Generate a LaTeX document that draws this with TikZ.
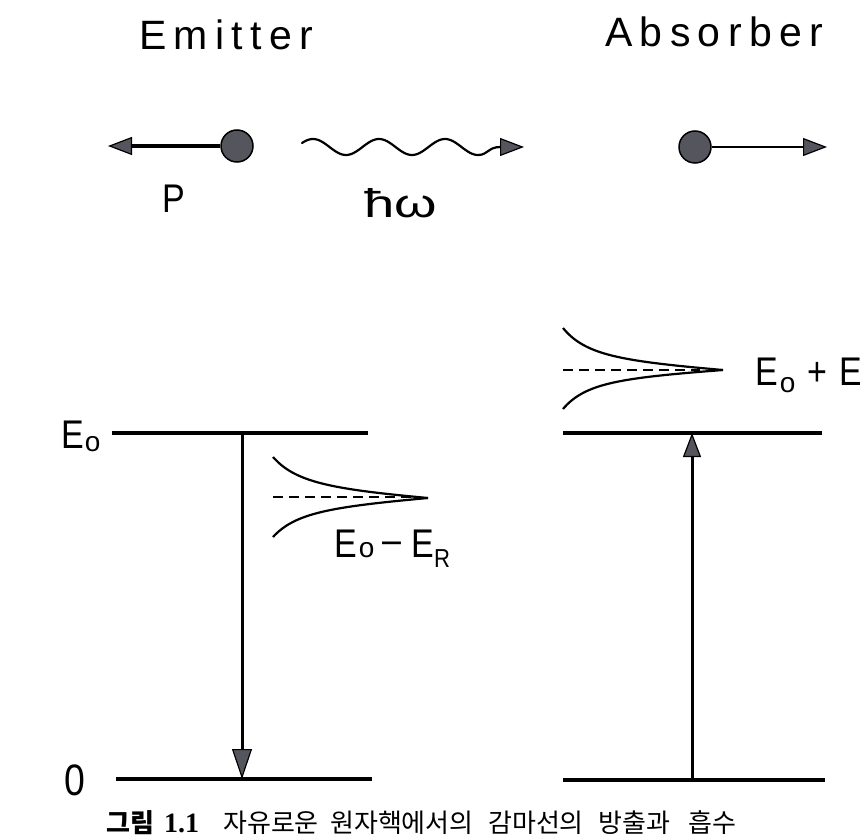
\documentclass[tikz,border=0pt]{standalone}
\usepackage{fontspec}
\usepackage{graphicx}
\setmainfont{Liberation Sans}[FakeStretch=0.85]
\newfontfamily\plainsans{Liberation Sans}
\newfontfamily\titlefont{Liberation Sans}[LetterSpace=18]
\newfontfamily\cjk{Noto Sans CJK KR}
\newfontfamily\serifnum{Liberation Serif}
\usetikzlibrary{arrows.meta}
\definecolor{ballgray}{HTML}{55555E}
\newcommand\lowsub[2][3pt]{\raisebox{-#1}{\plainsans\fontsize{28}{28}\selectfont #2}}
\begin{document}
\begin{tikzpicture}[x=1pt,y=-1pt,
  lab/.style={font=\fontsize{40}{40}\selectfont, inner sep=0pt, anchor=base west},
  ttl/.style={font=\titlefont\fontsize{41}{41}\selectfont, inner sep=0pt, anchor=base west},
  captxt/.style={font=\cjk\fontsize{26}{26}\selectfont, inner sep=0pt, anchor=base west},
  ball/.style={circle, fill=ballgray, draw=black, line width=1.5pt, minimum size=32pt, inner sep=0pt},
  lvl/.style={line width=3.5pt},
  curve/.style={line width=2.2pt},
  dline/.style={line width=2pt, dash pattern=on 10pt off 6pt},
  tipsmall/.style={-{Triangle[length=24pt,width=18pt,fill=ballgray,line width=1.2pt]}},
  tipbig/.style={-{Triangle[length=30pt,width=20pt,fill=ballgray,line width=1.2pt]}}
]
\useasboundingbox (0,0) rectangle (860,837);
\fill[white] (0,0) rectangle (860,837);

% titles
\node[ttl] (emit) at (139,50) {Emitter};
\node[ttl] (absb) at (605,47) {Absorber};

% top row
\node[ball] (b1) at (237,146) {};
\coordinate (p1) at (108,146);
\draw[line width=4pt, tipsmall] (b1.west) -- (p1);

\coordinate (w0) at (302,143);
\coordinate (w1) at (524,147);
\draw[line width=2.2pt, tipsmall, line cap=round]
  plot[domain=302:478, samples=90, smooth] ({\x},{147-8*cos((\x-313)*5.4545)})
  .. controls (488,155) and (488,147) .. (w1);

\node[ball] (b2) at (695,147) {};
\coordinate (p2) at (827,147);
\draw[line width=2.5pt, tipsmall] (b2.east) -- (p2);

\node[lab] (lp) at (162,213) {P};
\node[lab] (lhw) at (364,218) {\scalebox{1.6}[1]{ħω}};

% emitter levels
\coordinate (le0a) at (112,433);
\coordinate (le0b) at (368,433);
\coordinate (lz0a) at (116,779);
\coordinate (lz0b) at (372,779);
\draw[lvl] (le0a) -- (le0b);
\draw[lvl] (lz0a) -- (lz0b);
\coordinate (ldt) at (242,435);
\coordinate (ldb) at (242,779);
\draw[line width=3pt, tipbig] (ldt) -- (ldb);

\node[lab] (le0) at (61,448) {E\hspace{1pt}\lowsub{o}};
\node[lab, font=\fontsize{44}{44}\selectfont] (lzero) at (64,795) {0};

% emitter line shape
\draw[curve] (273,457) .. controls (295,482) and (330,489) .. (428,498);
\draw[curve] (273,537) .. controls (295,513) and (330,507) .. (428,498);
\draw[dline] (273,497) -- (420,497);
\node[lab] (lemr) at (334,557) {E\hspace{2pt}\lowsub[0pt]{o}\hspace{8pt}\raisebox{4pt}{–}\hspace{10pt}E\raisebox{-10pt}{\fontsize{26}{26}\selectfont R}};

% absorber levels
\coordinate (re0a) at (563,433);
\coordinate (re0b) at (822,433);
\coordinate (rz0a) at (563,780);
\coordinate (rz0b) at (825,780);
\draw[lvl] (re0a) -- (re0b);
\draw[lvl] (rz0a) -- (rz0b);
\coordinate (rub) at (692,780);
\coordinate (rut) at (692,433);
\draw[line width=3pt, tipsmall] (rub) -- (rut);

% absorber line shape
\draw[curve] (563,328) .. controls (585,355) and (620,361) .. (723,370);
\draw[curve] (563,409) .. controls (585,383) and (620,378) .. (723,370);
\draw[dline] (563,370) -- (700,370);
\node[lab] (lepr) at (755,385) {E\hspace{2pt}\lowsub[7pt]{o}\hspace{12pt}+\hspace{12pt}E\raisebox{-10pt}{\fontsize{26}{26}\selectfont R}};

% caption
\node[captxt] (c1) at (106,832) {\bfseries 그림};
\node[captxt] (c1n) at (164,832) {\serifnum\bfseries\fontsize{28}{28}\selectfont 1.1};
\node[captxt] (c2) at (223,832) {자유로운};
\node[captxt] (c3) at (330,832) {원자핵에서의};
\node[captxt] (c4) at (488,832) {감마선의};
\node[captxt] (c5) at (598,832) {방출과};
\node[captxt] (c6) at (688,832) {흡수};
\end{tikzpicture}
\end{document}
